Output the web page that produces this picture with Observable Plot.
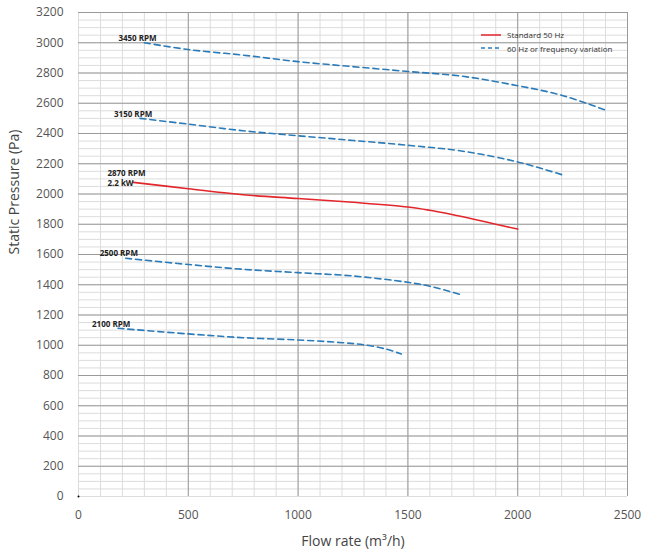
<!DOCTYPE html>
<html>
<head>
<meta charset="utf-8">
<script src="https://cdn.jsdelivr.net/npm/d3@7"></script>
<script src="https://cdn.jsdelivr.net/npm/@observablehq/plot@0.6"></script>
<style>
  html, body { margin: 0; padding: 0; background: #fff; }
  #wrap { position: relative; width: 647px; height: 550px; font-family: "Open Sans", sans-serif; }
  #legend { position: absolute; left: 481px; top: 28px; font-size: 8px; color: #333; line-height: 13.5px; }
  #legend div { display: flex; align-items: center; }
  #legend svg { margin-right: 6px; }
</style>
</head>
<body>
<div id="wrap">
  <div id="chart"></div>
  <div id="legend">
    <div><svg width="20" height="4"><line x1="0" x2="20" y1="2" y2="2" stroke="#e3262b" stroke-width="1.5"/></svg>Standard 50 Hz</div>
    <div><svg width="20" height="4"><line x1="0" x2="20" y1="2" y2="2" stroke="#2b7bb9" stroke-width="1.5" stroke-dasharray="4,3"/></svg>60 Hz or frequency variation</div>
  </div>
</div>
<script>
// ---- data ----
const speeds = ["3450 RPM", "3150 RPM", "2870 RPM\n2.2 kW", "2500 RPM", "2100 RPM"];
const standard = [false, false, true, false, false];
const flow3450 = [300, 500, 750, 1000, 1250, 1500, 1750, 2000, 2200, 2400];
const pres3450 = [3000, 2955, 2918, 2875, 2842, 2810, 2778, 2716, 2653, 2555];
const flow3150 = [280, 500, 750, 1000, 1250, 1500, 1750, 2000, 2200];
const pres3150 = [2500, 2462, 2418, 2385, 2354, 2322, 2283, 2212, 2128];
const flow2870 = [250, 500, 750, 1000, 1250, 1500, 1600, 1700, 1800, 1900, 2000];
const pres2870 = [2077, 2035, 1995, 1970, 1945, 1914, 1892, 1864, 1833, 1800, 1768];
const flow2500 = [215, 500, 750, 1000, 1250, 1500, 1600, 1740];
const pres2500 = [1575, 1534, 1502, 1480, 1458, 1416, 1390, 1335];
const flow2100 = [180, 500, 750, 1000, 1200, 1300, 1400, 1470];
const pres2100 = [1112, 1075, 1050, 1035, 1017, 1003, 975, 942];
const xTicks = [0, 500, 1000, 1500, 2000, 2500];
const yTicks = [0, 200, 400, 600, 800, 1000, 1200, 1400, 1600, 1800, 2000, 2200, 2400, 2600, 2800, 3000, 3200];
const xTitle = "Flow rate (m³/h)";
const yTitle = "Static Pressure (Pa)";

// ---- build ----
const flows = [flow3450, flow3150, flow2870, flow2500, flow2100];
const press = [pres3450, pres3150, pres2870, pres2500, pres2100];
const curves = speeds.map((s, i) => flows[i].map((f, j) => ({speed: s, flow: f, pressure: press[i][j], std: standard[i]})));
const dashed = curves.filter((c, i) => !standard[i]).flat();
const solid = curves.filter((c, i) => standard[i]).flat();
const starts = curves.map(c => c[0]);

const minorX = d3.range(0, 2501, 100);
const minorY = d3.range(0, 3201, 50);
const majorX = xTicks.filter(d => d > 0);
const majorY = yTicks.filter(d => d > 0);

const chart = Plot.plot({
  width: 647,
  height: 550,
  marginLeft: 78,
  marginRight: 20,
  marginTop: 12,
  marginBottom: 54,
  style: {fontFamily: "'Open Sans', sans-serif", background: "#fff"},
  x: {domain: [0, 2500]},
  y: {domain: [0, 3200]},
  marks: [
    Plot.ruleX(minorX, {stroke: "#dcdcdc", strokeWidth: 1}),
    Plot.ruleY(minorY, {stroke: "#dcdcdc", strokeWidth: 1}),
    Plot.ruleX(majorX, {stroke: "#9a9a9a", strokeWidth: 1}),
    Plot.ruleY(majorY, {stroke: "#9a9a9a", strokeWidth: 1}),
    Plot.axisY(yTicks, {tickSize: 0, tickPadding: 15, fontSize: 12, fill: "#555", tickFormat: d => String(d), label: null}),
    Plot.axisX(xTicks, {tickSize: 0, tickPadding: 14, fontSize: 12, fill: "#555", tickFormat: d => String(d), label: null}),
    Plot.text([yTitle], {frameAnchor: "left", dx: -64, rotate: -90, fontSize: 14, fill: "#444"}),
    Plot.text([xTitle], {frameAnchor: "bottom", dy: 49, fontSize: 14, fill: "#444"}),
    Plot.line(dashed, {x: "flow", y: "pressure", z: "speed", stroke: "#2b7bb9", strokeWidth: 1.6, strokeDasharray: "6,4", curve: "catmull-rom"}),
    Plot.line(solid, {x: "flow", y: "pressure", z: "speed", stroke: "#e3262b", strokeWidth: 1.6, curve: "catmull-rom"}),
    Plot.dot([{flow: 0, pressure: 0}], {x: "flow", y: "pressure", r: 1, fill: "#000"}),
    Plot.text(starts, {x: "flow", y: "pressure", text: "speed", textAnchor: "start", lineAnchor: "middle", dx: -26, dy: -5, fontSize: 8, fontWeight: "bold", fill: "#222", lineHeight: 1.25})
  ]
});
document.getElementById("chart").appendChild(chart);
</script>
</body>
</html>
